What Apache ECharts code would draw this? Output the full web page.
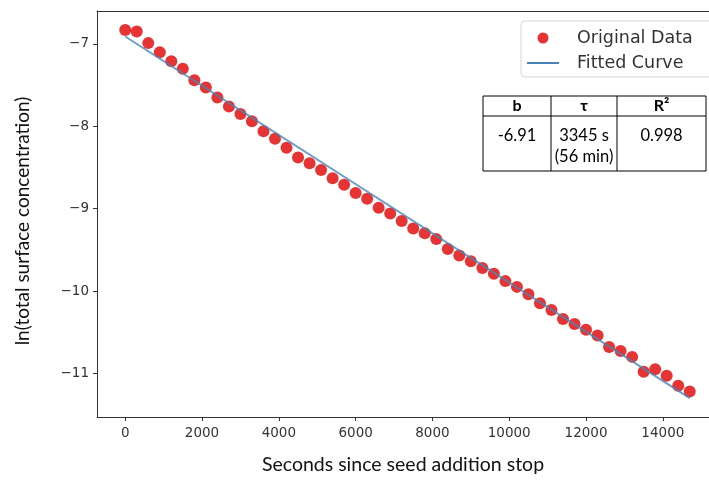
<!DOCTYPE html>
<html>
<head>
<meta charset="utf-8">
<script src="https://cdn.jsdelivr.net/npm/echarts@6/dist/echarts.min.js"></script>
<style>
html, body { margin: 0; padding: 0; background: #fff; }
#chart { width: 709px; height: 481px; }
</style>
</head>
<body>
<div id="chart"></div>
<script>
// measured points, seconds after seed addition stopped
var timeSec = [0, 300, 600, 900, 1200, 1500, 1800, 2100, 2400, 2700,
  3000, 3300, 3600, 3900, 4200, 4500, 4800, 5100, 5400, 5700,
  6000, 6300, 6600, 6900, 7200, 7500, 7800, 8100, 8400, 8700,
  9000, 9300, 9600, 9900, 10200, 10500, 10800, 11100, 11400, 11700,
  12000, 12300, 12600, 12900, 13200, 13500, 13800, 14100, 14400, 14700];
var lnConc = [-6.83, -6.85, -6.99, -7.10, -7.21, -7.30, -7.44, -7.53, -7.65, -7.76,
  -7.85, -7.94, -8.06, -8.15, -8.26, -8.38, -8.45, -8.53, -8.63, -8.71,
  -8.81, -8.88, -8.99, -9.06, -9.15, -9.24, -9.30, -9.37, -9.49, -9.57,
  -9.64, -9.72, -9.79, -9.88, -9.95, -10.04, -10.15, -10.23, -10.34, -10.40,
  -10.47, -10.54, -10.68, -10.73, -10.80, -10.98, -10.95, -11.03, -11.15, -11.22];

// fitted straight line (ends)
var fitX = [0, 14700];
var fitY = [-6.91, -11.30];

var xTicks = [0, 2000, 4000, 6000, 8000, 10000, 12000, 14000];
var yTicks = [-11, -10, -9, -8, -7];

var tableHead = ['b', 'τ', 'R²'];
var tableBody = ['-6.91', '3345 s\n(56 min)', '0.998'];

var titleFont = 'Lato';
var tickFont = 'DejaVu Sans';
var frameColor = '#333';

function zip(a, b) {
  return a.map(function (v, i) { return [v, b[i]]; });
}

function plain(v) {
  return String(v).replace('-', '\u2212');
}

// table overlay on the upper right
var colX = [483, 551, 617, 706];
var tableTop = 96, headBottom = 116, tableBottom = 171;
var tableParts = [
  { type: 'rect', shape: { x: colX[0], y: tableTop, width: colX[3] - colX[0], height: tableBottom - tableTop },
    style: { fill: '#fff', stroke: '#000', lineWidth: 1 } },
  { type: 'line', shape: { x1: colX[0], y1: headBottom, x2: colX[3], y2: headBottom }, style: { stroke: '#000', lineWidth: 1 } }
];
for (var c = 1; c < 3; c++) {
  tableParts.push({ type: 'line', shape: { x1: colX[c], y1: tableTop, x2: colX[c], y2: tableBottom },
    style: { stroke: '#000', lineWidth: 1 } });
}
for (var k = 0; k < 3; k++) {
  var cx = (colX[k] + colX[k + 1]) / 2;
  tableParts.push({ type: 'text', x: cx, y: 106,
    style: { text: tableHead[k], fontFamily: titleFont, fontWeight: 'bold', fontSize: 16, fill: '#000', align: 'center', verticalAlign: 'middle' } });
  tableParts.push({ type: 'text', x: cx, y: 125,
    style: { text: tableBody[k], fontFamily: titleFont, fontSize: 16.5, fill: '#000', align: 'center', verticalAlign: 'top', lineHeight: 21 } });
}

var chart = echarts.init(document.getElementById('chart'));

var option = {
  animation: false,
  backgroundColor: '#fff',
  grid: {
    left: 97, top: 11, right: 0, bottom: 64,
    outerBoundsMode: 'none',
    show: false
  },
  legend: {
    orient: 'vertical',
    left: 521, top: 21,
    backgroundColor: '#fff',
    borderColor: '#d4d4d4', borderWidth: 1, borderRadius: 4,
    padding: [8, 30, 5, 6],
    itemWidth: 32, itemHeight: 11, itemGap: 7,
    textStyle: { fontFamily: tickFont, fontSize: 17.5, color: '#333', padding: [0, 0, 0, 13] },
    data: [
      { name: 'Original Data', icon: 'circle' },
      { name: 'Fitted Curve', icon: 'path://M0,0h32v2h-32z' }
    ]
  },
  xAxis: [
    {
      type: 'value',
      min: -735, max: 15202,
      splitLine: { show: false },
      axisLine: { show: true, onZero: false, lineStyle: { color: frameColor, width: 1 } },
      axisTick: { show: true, customValues: xTicks, length: 4, lineStyle: { color: frameColor } },
      axisLabel: { customValues: xTicks, margin: 9, fontFamily: tickFont, fontSize: 13.5, color: '#333', formatter: plain },
      name: 'Seconds since seed addition stop',
      nameLocation: 'middle', nameGap: 38,
      nameTextStyle: { fontFamily: titleFont, fontSize: 19.5, color: '#111' }
    },
    {
      // top edge of the frame
      type: 'value', position: 'top',
      min: -735, max: 15202,
      splitLine: { show: false },
      axisLine: { show: true, onZero: false, lineStyle: { color: frameColor, width: 1 } },
      axisTick: { show: false },
      axisLabel: { show: false }
    }
  ],
  yAxis: {
    type: 'value',
    min: -11.53, max: -6.6,
    splitLine: { show: false },
    axisLine: { show: true, onZero: false, lineStyle: { color: frameColor, width: 1 } },
    axisTick: { show: true, customValues: yTicks, length: 4, lineStyle: { color: frameColor } },
    axisLabel: { customValues: yTicks, margin: 8, fontFamily: tickFont, fontSize: 13.5, color: '#333', formatter: plain },
    name: 'ln(total surface concentration)',
    nameLocation: 'middle', nameGap: 65,
    nameTextStyle: { fontFamily: titleFont, fontSize: 19, color: '#111', padding: [0, 14, 0, 0] }
  },
  series: [
    {
      name: 'Original Data',
      type: 'scatter',
      symbolSize: 12,
      itemStyle: { color: '#e00000' },
      data: zip(timeSec, lnConc),
      z: 2
    },
    {
      name: 'Fitted Curve',
      type: 'line',
      symbol: 'none',
      lineStyle: { color: '#4a84b6', width: 2, opacity: 0.8 },
      itemStyle: { color: '#4a84b6' },
      data: zip(fitX, fitY),
      z: 3
    }
  ],
  graphic: [{ type: 'group', children: tableParts, z: 10 }]
};

chart.setOption(option);
</script>
</body>
</html>
